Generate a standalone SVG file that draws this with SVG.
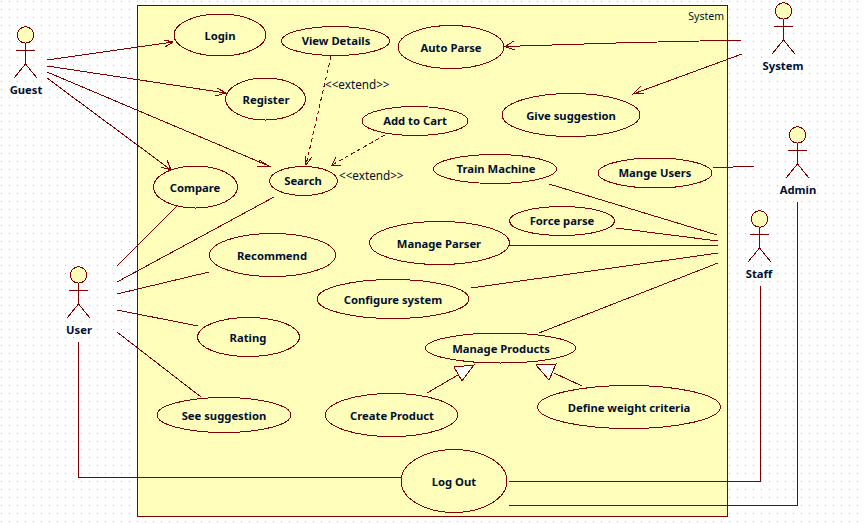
<svg xmlns="http://www.w3.org/2000/svg" width="864" height="524" viewBox="0 0 864 524">
<style>
text{font-family:"Noto Sans","DejaVu Sans",sans-serif;fill:#001030}
.n{font-size:11.250px;font-weight:700;text-anchor:middle}
.s{font-size:10.500px}
.x{font-size:11.700px}
.u{fill:#ffffbb;stroke:#800000;stroke-width:1;shape-rendering:crispEdges}
.fh{fill:#ffffbb;stroke:#800000;stroke-width:1;shape-rendering:crispEdges}
.fb{fill:none;stroke:#800000;stroke-width:1;shape-rendering:crispEdges}
.c path{fill:none;stroke:#800000;stroke-width:1;shape-rendering:crispEdges}
.c .d{stroke-dasharray:4 3}
.c .t{fill:#fff}
</style>
<defs>
<pattern id="g" width="8" height="8" patternUnits="userSpaceOnUse"><rect x="1" y="1" width="1" height="1" fill="#c0c0c0"/></pattern>
<g id="fig"><circle class="fh" cx="0" cy="0" r="8.200"/><path class="fb" d="M0 8V29M-9.500 15H9.500M0 29L-11.500 43M0 29L11.500 43"/></g>
</defs>
<rect width="864" height="524" fill="#fff"/>
<rect width="864" height="524" fill="url(#g)"/>
<rect id="boundary" x="137.500" y="5.500" width="590" height="511" fill="#ffffbb" stroke="#800000" stroke-width="1" shape-rendering="crispEdges"/>
<text class="s" x="724" y="20" text-anchor="end">System</text>
<g class="c" id="connectors">
<path d="M47 60L173 42M164 40L173 42L165 47"/>
<path d="M47 66L226 93M217 88L226 93L215 96"/>
<path d="M47 72L269 166M259 160L269 166L257 166"/>
<path d="M47 78L171 170M161 167L171 170L167 160"/>
<path d="M742 40L616 43L505 46.500M514 41L505 46.500L515 50"/>
<path d="M742 54L633 94M641 86L633 94L644 93"/>
<path d="M713 168L754 166"/>
<path d="M549 184L717 235"/>
<path d="M616 228L718 241"/>
<path d="M510 245L718 246"/>
<path d="M471 288L718 253"/>
<path d="M539 333L718 263"/>
<path class="d" d="M331 56L306 165"/><path d="M305 156L306 165L312 157"/>
<path class="d" d="M385 135L332 165"/><path d="M336 157L332 165L341 165"/>
<path d="M177 206L117 266"/>
<path d="M274 197L117 282"/>
<path d="M209 272L117 294"/>
<path d="M198 326L117 310"/>
<path d="M201 397L117 332"/>
<path d="M427 393L458 375"/>
<path class="t" d="M454 367L474 365L462 381Z"/>
<path d="M582 386L554 373"/>
<path class="t" d="M536 365L556 364L549 380Z"/>
<path d="M78 342V477H401"/>
<path d="M509 481H760V286"/>
<path d="M509 505H797V202"/>
</g>
<g id="a-guest"><use href="#fig" transform="translate(25.500 35)"/><text class="n" x="26" y="94">Guest</text></g>
<g id="a-user"><use href="#fig" transform="translate(78.500 275)"/><text class="n" x="79" y="334">User</text></g>
<g id="a-system"><use href="#fig" transform="translate(783.500 11)"/><text class="n" x="783" y="70">System</text></g>
<g id="a-admin"><use href="#fig" transform="translate(797.500 135)"/><text class="n" x="798" y="194">Admin</text></g>
<g id="a-staff"><use href="#fig" transform="translate(759.500 219)"/><text class="n" x="759" y="278">Staff</text></g>
<g id="login"><ellipse class="u" cx="220" cy="35" rx="46" ry="21"/><text class="n" x="220" y="40">Login</text></g>
<g id="register"><ellipse class="u" cx="265.500" cy="99" rx="40" ry="21"/><text class="n" x="266" y="104">Register</text></g>
<g id="viewdetails"><ellipse class="u" cx="335.500" cy="41" rx="54" ry="14.500"/><text class="n" x="336" y="45">View Details</text></g>
<g id="autoparse"><ellipse class="u" cx="451" cy="47" rx="53" ry="21.500"/><text class="n" x="451" y="52">Auto Parse</text></g>
<g id="addtocart"><ellipse class="u" cx="415" cy="121" rx="53" ry="14.500"/><text class="n" x="415" y="125">Add to Cart</text></g>
<g id="givesuggestion"><ellipse class="u" cx="571" cy="115" rx="69" ry="21.500"/><text class="n" x="571" y="120">Give suggestion</text></g>
<g id="trainmachine"><ellipse class="u" cx="495" cy="169" rx="61.500" ry="14.500"/><text class="n" x="496" y="173">Train Machine</text></g>
<g id="mangeusers"><ellipse class="u" cx="655" cy="173" rx="57" ry="15"/><text class="n" x="655" y="177">Mange Users</text></g>
<g id="compare"><ellipse class="u" cx="195.500" cy="187" rx="42" ry="21"/><text class="n" x="195" y="192">Compare</text></g>
<g id="search"><ellipse class="u" cx="303.500" cy="181" rx="34" ry="14.500"/><text class="n" x="303" y="185">Search</text></g>
<g id="forceparse"><ellipse class="u" cx="562" cy="221" rx="52.500" ry="14.500"/><text class="n" x="562" y="225">Force parse</text></g>
<g id="manageparser"><ellipse class="u" cx="439.500" cy="243" rx="70" ry="21.500"/><text class="n" x="439" y="248">Manage Parser</text></g>
<g id="recommend"><ellipse class="u" cx="272.500" cy="255" rx="63" ry="21.500"/><text class="n" x="272" y="260">Recommend</text></g>
<g id="configure"><ellipse class="u" cx="393" cy="299" rx="76" ry="19.500"/><text class="n" x="393" y="304">Configure system</text></g>
<g id="rating"><ellipse class="u" cx="248.500" cy="337" rx="51" ry="19.500"/><text class="n" x="248" y="342">Rating</text></g>
<g id="manageproducts"><ellipse class="u" cx="500.500" cy="348" rx="75" ry="15"/><text class="n" x="501" y="353">Manage Products</text></g>
<g id="seesuggestion"><ellipse class="u" cx="224" cy="415" rx="67" ry="17.500"/><text class="n" x="224" y="420">See suggestion</text></g>
<g id="createproduct"><ellipse class="u" cx="391.500" cy="415" rx="66" ry="21.500"/><text class="n" x="392" y="420">Create Product</text></g>
<g id="defineweight"><ellipse class="u" cx="629" cy="407" rx="91.500" ry="21.500"/><text class="n" x="629" y="412">Define weight criteria</text></g>
<g id="logout"><ellipse class="u" cx="454" cy="481" rx="53" ry="31.500"/><text class="n" x="454" y="486">Log Out</text></g>
<text class="x" x="325" y="89">&lt;&lt;extend&gt;&gt;</text>
<text class="x" x="339" y="180">&lt;&lt;extend&gt;&gt;</text>
</svg>
